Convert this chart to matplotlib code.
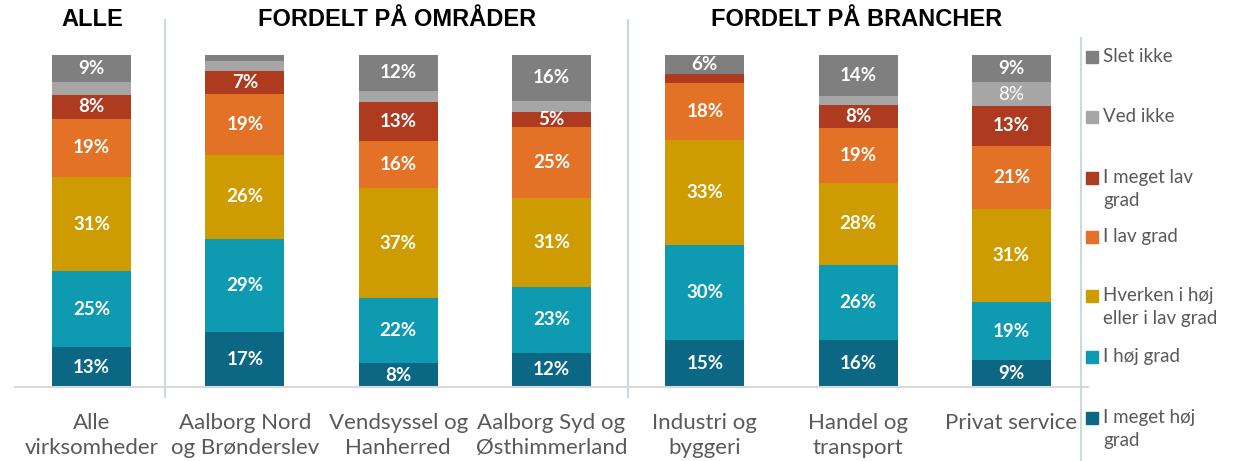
import numpy as np
import matplotlib.pyplot as plt
from matplotlib.patches import Rectangle
from matplotlib.lines import Line2D

categories = ["Alle\nvirksomheder", "Aalborg Nord\nog Brønderslev", "Vendsyssel og\nHanherred",
              "Aalborg Syd og\nØsthimmerland", "Industri og\nbyggeri", "Handel og\ntransport",
              "Privat service"]

meget_hoej = [13, 17, 8, 12, 15, 16, 9]
hoej = [25, 29, 22, 23, 30, 26, 19]
hverken = [31, 26, 37, 31, 33, 28, 31]
lav = [19, 19, 16, 25, 18, 19, 21]
meget_lav = [8, 7, 13, 5, 3, 8, 13]
ved_ikke = [4, 3, 4, 4, 0, 3, 8]
slet_ikke = [9, 2, 12, 16, 6, 14, 9]

series_names = ["I meget høj\ngrad", "I høj grad", "Hverken i høj\neller i lav grad", "I lav grad",
                "I meget lav\ngrad", "Ved ikke", "Slet ikke"]
series_vals = [meget_hoej, hoej, hverken, lav, meget_lav, ved_ikke, slet_ikke]
colors = ["#0B6783", "#0E9BB2", "#CE9B00", "#E37226", "#AE3A1F", "#A6A6A6", "#7F7F7F"]

W, H = 1234, 461
fig = plt.figure(figsize=(W / 100, H / 100), dpi=100)
ax = fig.add_axes([15 / W, (H - 387) / H, (1088 - 15) / W, (387 - 55) / H])

data = np.array(series_vals, dtype=float)
totals = data.sum(axis=0)
pct = data / totals * 100
x = np.arange(len(categories))
bottom = np.zeros(len(categories))
for i, (name, vals) in enumerate(zip(series_names, series_vals)):
    ax.bar(x, pct[i], 0.515, bottom=bottom, color=colors[i], edgecolor="none")
    for j, v in enumerate(vals):
        if v >= 5:
            ax.text(x[j], bottom[j] + pct[i][j] / 2, f"{v}%", ha="center", va="center",
                    color="white", fontsize=13.5, family="Lato",
                    fontweight="normal" if name == "Ved ikke" else "bold")
    bottom += pct[i]

ax.set_xlim(-0.5, 6.5)
ax.set_ylim(0, 100)
ax.set_yticks([])
ax.set_xticks(x)
ax.set_xticklabels(categories, fontsize=16, family="Lato", color="#595959", linespacing=1.3)
ax.tick_params(axis="x", length=0, pad=19)
for s in ["top", "right", "left"]:
    ax.spines[s].set_visible(False)
ax.spines["bottom"].set_color("#D9D9D9")
ax.spines["bottom"].set_linewidth(1.5)

sep = "#CCD9E0"
for xs in [0.48, 3.5]:
    ax.plot([xs, xs], [-3, 110.5], color=sep, lw=1.5, clip_on=False)
fig.add_artist(Line2D([1081 / W, 1081 / W], [0, 1 - 38 / H], color=sep, lw=1.5))

hdr = dict(ha="center", va="center", fontsize=17, fontweight="bold", family="Liberation Sans")
fig.text(92 / W, 1 - 20 / H, "ALLE", **hdr)
fig.text(397 / W, 1 - 20 / H, "FORDELT PÅ OMRÅDER", **hdr)
fig.text(857 / W, 1 - 20 / H, "FORDELT PÅ BRANCHER", **hdr)

# legend, top to bottom
leg_y = [57, 117, 178, 237, 296, 357, 418]
for k, yy in enumerate(leg_y):
    i = len(series_names) - 1 - k
    fig.add_artist(Rectangle((1086 / W, 1 - (yy + 6) / H), 12 / W, 12 / H,
                             color=colors[i], transform=fig.transFigure))
    fig.text(1103 / W, 1 - (yy - 9) / H, series_names[i], ha="left", va="top",
             fontsize=13.5, family="Lato", color="#595959", linespacing=1.45)

fig.savefig("out.png", dpi=100)
